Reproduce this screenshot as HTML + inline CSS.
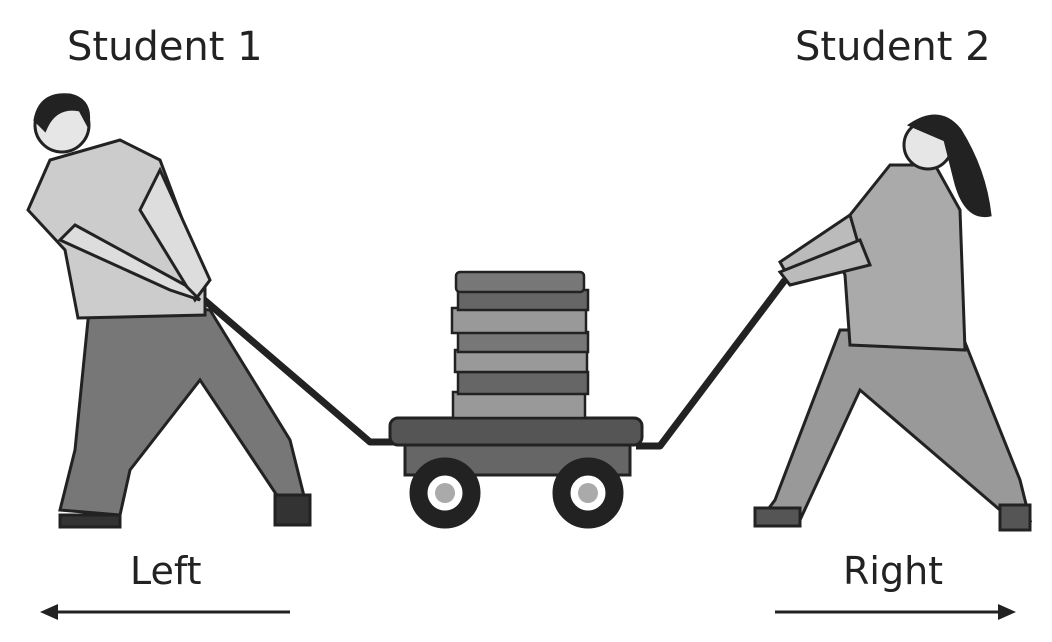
<!DOCTYPE html>
<html><head><meta charset="utf-8"><style>
html,body{margin:0;padding:0;background:#fff;width:1052px;height:642px;overflow:hidden}
svg{display:block}
text{font-family:"DejaVu Sans","Liberation Sans",sans-serif;fill:#222}
</style></head><body>
<svg width="1052" height="642" viewBox="0 0 1052 642">
<text x="67" y="60" font-size="40">Student 1</text>
<text x="795" y="60" font-size="40">Student 2</text>
<text x="130" y="584" font-size="38">Left</text>
<text x="843" y="584" font-size="38">Right</text>
<g stroke="#222" stroke-width="3" fill="#222">
<line x1="290" y1="612" x2="50" y2="612"/><polygon points="40,612 58,604 58,620" stroke="none"/></g>
<g stroke="#222" stroke-width="3" fill="#222">
<line x1="775" y1="612" x2="1005" y2="612"/><polygon points="1016,612 998,604 998,620" stroke="none"/></g>

<g fill="none" stroke="#222" stroke-width="7" stroke-linejoin="round">
<polyline points="195,292 370,442 398,442"/><polyline points="785,280 660,446 636,446"/></g>

<g stroke="#222" stroke-width="3">
<rect x="405" y="440" width="225" height="35" fill="#666"/>
<rect x="390" y="418" width="252" height="27" rx="8" fill="#555"/>
<circle cx="445" cy="493" r="34" fill="#222"/><circle cx="445" cy="493" r="19" fill="#fff"/><circle cx="445" cy="493" r="10" fill="#aaa" stroke="none"/>
<circle cx="588" cy="493" r="34" fill="#222"/><circle cx="588" cy="493" r="19" fill="#fff"/><circle cx="588" cy="493" r="10" fill="#aaa" stroke="none"/>
</g>
<g stroke="#222" stroke-width="2.5">
<rect x="453" y="392" width="132" height="26" fill="#999"/>
<rect x="458" y="372" width="130" height="22" fill="#666"/>
<rect x="455" y="350" width="132" height="22" fill="#999"/>
<rect x="458" y="332" width="130" height="20" fill="#777"/>
<rect x="452" y="308" width="134" height="25" fill="#999"/>
<rect x="458" y="290" width="130" height="20" fill="#666"/>
<rect x="456" y="272" width="128" height="20" rx="4" fill="#777"/>
</g>

<g stroke="#222" stroke-width="3">
<path d="M75,450 L60,510 L120,515 L130,470 L200,380 L280,500 L305,500 L290,440 L210,310 L90,300 Z" fill="#777"/>
<path d="M60,515 h60 v12 h-60 z M275,495 h35 v30 h-35 z" fill="#333"/>
<path d="M50,160 L28,210 L65,250 L78,318 L205,315 L205,280 L160,160 L120,140 Z" fill="#ccc"/>
<path d="M160,170 L210,280 L195,300 L140,210 Z" fill="#ddd"/>
<path d="M60,240 L170,290 L200,300 L185,285 L75,225 Z" fill="#ddd"/>
<circle cx="62" cy="125" r="27" fill="#e6e6e6"/>
<path d="M35,120 Q40,92 70,95 Q92,100 88,125 L80,110 Q55,105 45,130 Z" fill="#222"/>
</g>
<g stroke="#222" stroke-width="3">
<path d="M840,330 L775,500 L760,520 L800,520 L860,390 L1000,510 L1030,520 L1020,480 L960,330 Z" fill="#999"/>
<path d="M755,508 h45 v18 h-45 z M1000,505 h30 v25 h-30 z" fill="#555"/>
<path d="M890,165 L830,240 L845,275 L850,345 L965,350 L960,210 L935,165 Z" fill="#aaa"/>
<path d="M850,215 L780,262 L790,280 L860,250 Z" fill="#bbb"/>
<path d="M860,240 L780,272 L790,285 L870,265 Z" fill="#bbb"/>
<circle cx="928" cy="145" r="24" fill="#e6e6e6"/>
<path d="M910,125 Q940,105 960,130 Q985,170 990,215 Q965,220 955,180 L945,140 Z" fill="#222"/>
</g>
</svg>
</body></html>
